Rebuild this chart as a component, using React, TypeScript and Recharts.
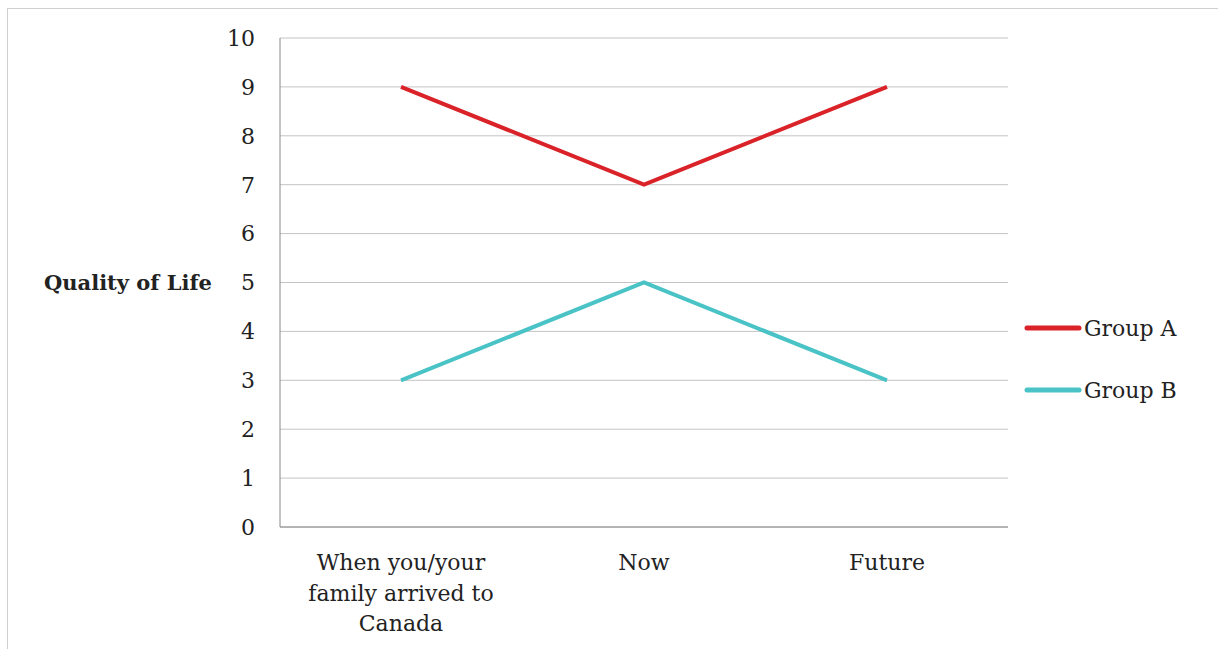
import { LineChart, Line, XAxis, YAxis, CartesianGrid, Legend, Label } from "recharts";

const categories = ["When you/your\nfamily arrived to\nCanada", "Now", "Future"];
const groupA = [9, 7, 9];
const groupB = [3, 5, 3];
const yTicks = [0, 1, 2, 3, 4, 5, 6, 7, 8, 9, 10];

const seriesInfo = [
  { key: "groupA", name: "Group A", color: "#da2229" },
  { key: "groupB", name: "Group B", color: "#4ac3c6" },
];

const data = categories.map((c, i) => ({ name: c, groupA: groupA[i], groupB: groupB[i] }));

const FONT = "'DejaVu Serif', serif";

// multi-line category labels, split on "\n"
function CategoryTick({ x, y, payload }: any) {
  const lines = String(payload.value).split("\n");
  return (
    <text x={x} y={y + 41} textAnchor="middle" fill="#222" fontSize={22} fontFamily={FONT}>
      {lines.map((l, i) => (
        <tspan key={i} x={x} dy={i === 0 ? 0 : 30.5}>{l}</tspan>
      ))}
    </text>
  );
}

function SideLegend() {
  return (
    <div style={{ fontFamily: FONT, fontSize: 22, color: "#222" }}>
      {seriesInfo.map((s) => (
        <div key={s.key} style={{ display: "flex", alignItems: "center", height: 62 }}>
          <svg width={58} height={10} style={{ marginRight: 2 }}>
            <line x1={3} y1={5} x2={55} y2={5} stroke={s.color} strokeWidth={5} strokeLinecap="round" />
          </svg>
          <span>{s.name}</span>
        </div>
      ))}
    </div>
  );
}

export default function App() {
  return (
    <div style={{ position: "absolute", left: 7, top: 8, border: "1px solid #d0d0d0", width: 1210, height: 650 }}>
      <LineChart width={1210} height={640} data={data} margin={{ top: 29, right: 210, bottom: 12, left: 0 }}>
        <CartesianGrid horizontal vertical={false} stroke="#c4c4c4" />
        <XAxis
          dataKey="name"
          axisLine={{ stroke: "#888" }}
          tickLine={false}
          tickSize={0}
          height={110}
          padding={{ left: 121, right: 121 }}
          tick={<CategoryTick />}
          interval={0}
        />
        <YAxis
          domain={[0, 10]}
          ticks={yTicks}
          width={272}
          axisLine={{ stroke: "#888" }}
          tickLine={false}
          tickSize={0}
          tickMargin={25}
          tick={{ fill: "#222", fontSize: 22, fontFamily: FONT }}
        >
          <Label
            value="Quality of Life"
            position="insideLeft"
            offset={36}
            style={{ fontFamily: FONT, fontSize: 21, fontWeight: "bold", fill: "#222" }}
          />
        </YAxis>
        <Legend
          content={<SideLegend />}
          layout="vertical"
          verticalAlign="middle"
          align="center"
          wrapperStyle={{ left: 1016, top: 288, width: 180 }}
        />
        {seriesInfo.map((s) => (
          <Line
            key={s.key}
            dataKey={s.key}
            name={s.name}
            stroke={s.color}
            strokeWidth={4}
            dot={false}
            isAnimationActive={false}
          />
        ))}
      </LineChart>
    </div>
  );
}
